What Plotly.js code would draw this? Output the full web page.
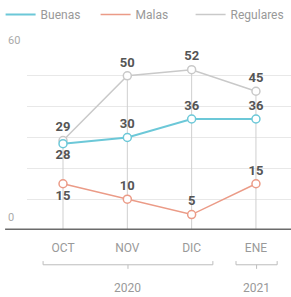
<!DOCTYPE html>
<html><head><meta charset="utf-8">
<script src="https://cdn.plot.ly/plotly-3.0.1.min.js"></script>
<style>body{margin:0;padding:0;background:#fff}#c{width:291px;height:297px}</style>
</head><body><div id="c"></div>
<script>
const months = ['OCT','NOV','DIC','ENE'];
const years = ['2020','2020','2020','2021'];
const buenas = [28,30,36,36];
const malas = [15,10,5,15];
const regulares = [29,50,52,45];
const yTickVals = [0,10,20,30,40,50,60];
const yTickText = ['0','','','','','','60'];

const xi = months.map((m,i)=>i);
const fontFam = 'Roboto, "Liberation Sans", Arial, sans-serif';

// vertical drop lines from 0 to the max value per month
const vx=[], vy=[];
xi.forEach(i=>{ vx.push(i,i,null); vy.push(0, Math.max(buenas[i],malas[i],regulares[i]), null); });

function series(name, vals, color, width, pos){
  return {x:xi, y:vals, name:name, type:'scatter', mode:'lines+markers+text',
    line:{color:color, width:width}, showlegend:false,
    marker:{symbol:'circle', size:8, color:'#fff', line:{color:color, width:1.5}},
    text:vals.map(String), textposition:pos,
    textfont:{family:fontFam, size:13, color:'#555', weight:'bold'},
    cliponaxis:false};
}
function legendItem(name, color, width){
  return {x:[null], y:[null], name:name, type:'scatter', mode:'lines', line:{color:color, width:width}, showlegend:true};
}

const cB='#6cc8d8', cM='#eb9b87', cR='#c9c9c9';
const traces = [
  {x:vx, y:vy, mode:'lines', line:{color:'#cfcfcf', width:1}, showlegend:false, hoverinfo:'skip'},
  series('Regulares', regulares, cR, 1.5, ['top center','top center','top center','top center']),
  series('Malas', malas, cM, 1.5, ['bottom center','top center','top center','top center']),
  series('Buenas', buenas, cB, 2, ['bottom center','top center','top center','top center']),
  legendItem('Buenas', cB, 2),
  legendItem('Malas', cM, 1.5),
  legendItem('Regulares', cR, 1.5)
];

// group brackets
const shapes = [];
const annotations = [];
const groups = [];
years.forEach((y,i)=>{
  const g = groups.find(o=>o.year===y);
  if(g){ g.end=i; } else groups.push({year:y, start:i, end:i});
});
groups.forEach(g=>{
  const a = g.start-0.31, b = g.end+0.33, c=(a+b)/2;
  const st = {color:'#bdbdbd', width:1};
  shapes.push({type:'line', xref:'x', yref:'paper', x0:a, x1:b, y0:-0.188, y1:-0.188, line:st});
  shapes.push({type:'line', xref:'x', yref:'paper', x0:a, x1:a, y0:-0.188, y1:-0.168, line:st});
  shapes.push({type:'line', xref:'x', yref:'paper', x0:b, x1:b, y0:-0.188, y1:-0.168, line:st});
  shapes.push({type:'line', xref:'x', yref:'paper', x0:c, x1:c, y0:-0.188, y1:-0.21, line:st});
  annotations.push({text:g.year, xref:'x', yref:'paper', x:c, y:-0.312, showarrow:false,
    font:{family:fontFam, size:12, color:'#999'}, yanchor:'middle'});
});
// y tick labels, sitting just above their gridlines at the far left
yTickVals.forEach((v,i)=>{
  if(yTickText[i]) annotations.push({text:yTickText[i], xref:'paper', yref:'y', x:-0.078, y:v,
    xanchor:'left', yanchor:'bottom', yshift:(i===0?4:-4), showarrow:false, font:{family:fontFam, size:11, color:'#aaa'}});
});
// baseline
shapes.push({type:'line', xref:'paper', yref:'y', x0:-0.083, x1:1, y0:0, y1:0, line:{color:'#6b6b6b', width:3}});

const layout = {
  width:291, height:297,
  margin:{l:27, r:0, t:44, b:67},
  paper_bgcolor:'#fff', plot_bgcolor:'#fff',
  font:{family:fontFam, size:12, color:'#999'},
  showlegend:true,
  legend:{orientation:'h', x:-0.1, xanchor:'left', y:1.24, yanchor:'top',
    font:{size:12, color:'#999'}, entrywidth:50, entrywidthmode:'pixels', itemwidth:30},
  xaxis:{range:[-0.56,3.545], tickvals:xi, ticktext:months, showgrid:false, zeroline:false,
    showline:false, ticks:'', ticklabelstandoff:9, tickfont:{size:12, color:'#999'}, fixedrange:true},
  yaxis:{range:[0,60], tickvals:yTickVals, showticklabels:false, showgrid:true, gridcolor:'#e8e8e8',
    gridwidth:1, zeroline:false, showline:false, ticks:'', fixedrange:true},
  shapes:shapes, annotations:annotations
};
Plotly.newPlot('c', traces, layout, {displayModeBar:false, staticPlot:true});
</script></body></html>
